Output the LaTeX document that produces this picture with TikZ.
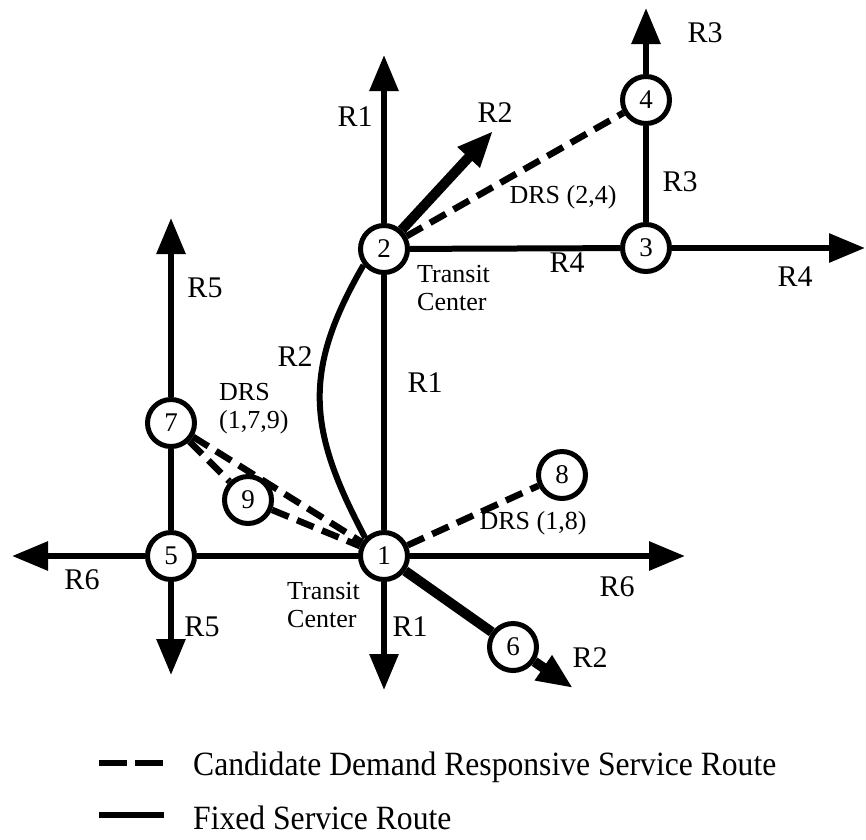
\documentclass[tikz,border=0pt]{standalone}
\usepackage{fontspec}
\setmainfont{Liberation Serif}
\newfontfamily\legfont{Liberation Serif}[FakeStretch=0.93]
\usetikzlibrary{arrows.meta}
\begin{document}
\begin{tikzpicture}[x=1pt,y=1pt,
  stop/.style={circle,draw,line width=5pt,minimum size=47pt,inner sep=0pt,fill=white,font=\fontsize{27}{27}\selectfont},
  route/.style={line width=6pt},
  thickroute/.style={line width=10pt},
  drs/.style={line width=6.5pt,dash pattern=on 18pt off 9pt},
  tipped/.style={-{Triangle[width=28pt,length=36pt]}},
  rlab/.style={font=\fontsize{30}{30}\selectfont,inner sep=0pt},
  slab/.style={font=\fontsize{26}{28}\selectfont,align=left,inner sep=0pt},
  leg/.style={font=\legfont\fontsize{34}{34}\selectfont,anchor=west,inner sep=0pt},
]
\useasboundingbox (0,0) rectangle (866,-839);

% stops
\node[stop] (n1) at (384,-556) {1};
\node[stop] (n2) at (384,-249) {2};
\node[stop] (n3) at (646,-248) {3};
\node[stop] (n4) at (646,-100) {4};
\node[stop] (n5) at (171,-556) {5};
\node[stop] (n6) at (513,-647) {6};
\node[stop] (n7) at (171,-423) {7};
\node[stop] (n8) at (562,-475) {8};
\node[stop] (n9) at (248,-500) {9};

% free ends of routes
\coordinate (r1top) at (384,-55);
\coordinate (r1bot) at (384,-690);
\coordinate (r2top) at (493,-131);
\coordinate (r2bot) at (573,-688);
\coordinate (r3top) at (646,-8);
\coordinate (r4right) at (865,-248);
\coordinate (r5top) at (171,-218);
\coordinate (r5bot) at (171,-675);
\coordinate (r6left) at (12,-556);
\coordinate (r6right) at (685,-556);

% fixed routes
\draw[route,tipped] (n2) -- (r1top);
\draw[route] (n1) -- (n2);
\draw[route,tipped] (n1) -- (r1bot);
\draw[thickroute,tipped] (n2) -- (r2top);
\draw[route] (n2.218) to[out=240,in=118,looseness=1.15] (n1.136);
\draw[thickroute] (n1) -- (n6);
\draw[thickroute,tipped] (n6) -- (r2bot);
\draw[route] (n3) -- (n4);
\draw[route,tipped] (n4) -- (r3top);
\draw[route] (n2) -- (n3);
\draw[route,tipped] (n3) -- (r4right);
\draw[route,tipped] (n7) -- (r5top);
\draw[route] (n5) -- (n7);
\draw[route,tipped] (n5) -- (r5bot);
\draw[route,tipped] (n5) -- (r6left);
\draw[route] (n5) -- (n1);
\draw[route,tipped] (n1) -- (r6right);

% candidate DRS routes
\draw[drs] (n2) -- (n4);
\draw[drs] (n7) -- (n1);
\draw[drs] (n7) -- (n9);
\draw[drs] (n9) -- (n1);
\draw[drs] (n1) -- (n8);

% labels
\node[rlab] (l1) at (355,-117) {R1};
\node[rlab] (l2) at (495,-113) {R2};
\node[rlab] (l3) at (705,-33) {R3};
\node[rlab] (l4) at (680,-182) {R3};
\node[slab] (l5) at (563,-197) {DRS (2,4)};
\node[rlab] (l6) at (567,-263) {R4};
\node[rlab] (l7) at (795,-277) {R4};
\node[slab,anchor=west] (l8) at (417,-288) {Transit\\Center};
\node[rlab] (l9) at (205,-288) {R5};
\node[rlab] (l10) at (295,-357) {R2};
\node[slab,anchor=west] (l11) at (219,-409) {DRS\\(1,7,9)};
\node[rlab] (l12) at (425,-383) {R1};
\node[slab] (l13) at (533,-523) {DRS (1,8)};
\node[rlab] (l14) at (617,-587) {R6};
\node[rlab] (l15) at (82,-580) {R6};
\node[rlab] (l16) at (202,-627) {R5};
\node[slab,anchor=west] (l17) at (287,-605) {Transit\\Center};
\node[rlab] (l18) at (410,-627) {R1};
\node[rlab] (l19) at (590,-658) {R2};

% legend
\coordinate (la) at (99,-763);
\coordinate (lb) at (163,-763);
\coordinate (lc) at (99,-815);
\coordinate (ld) at (164,-815);
\draw[line width=6pt,dash pattern=on 28pt off 8pt] (la) -- (lb);
\draw[line width=6pt] (lc) -- (ld);
\node[leg] (t1) at (193,-767) {Candidate Demand Responsive Service Route};
\node[leg] (t2) at (193,-818) {Fixed Service Route};
\end{tikzpicture}
\end{document}
